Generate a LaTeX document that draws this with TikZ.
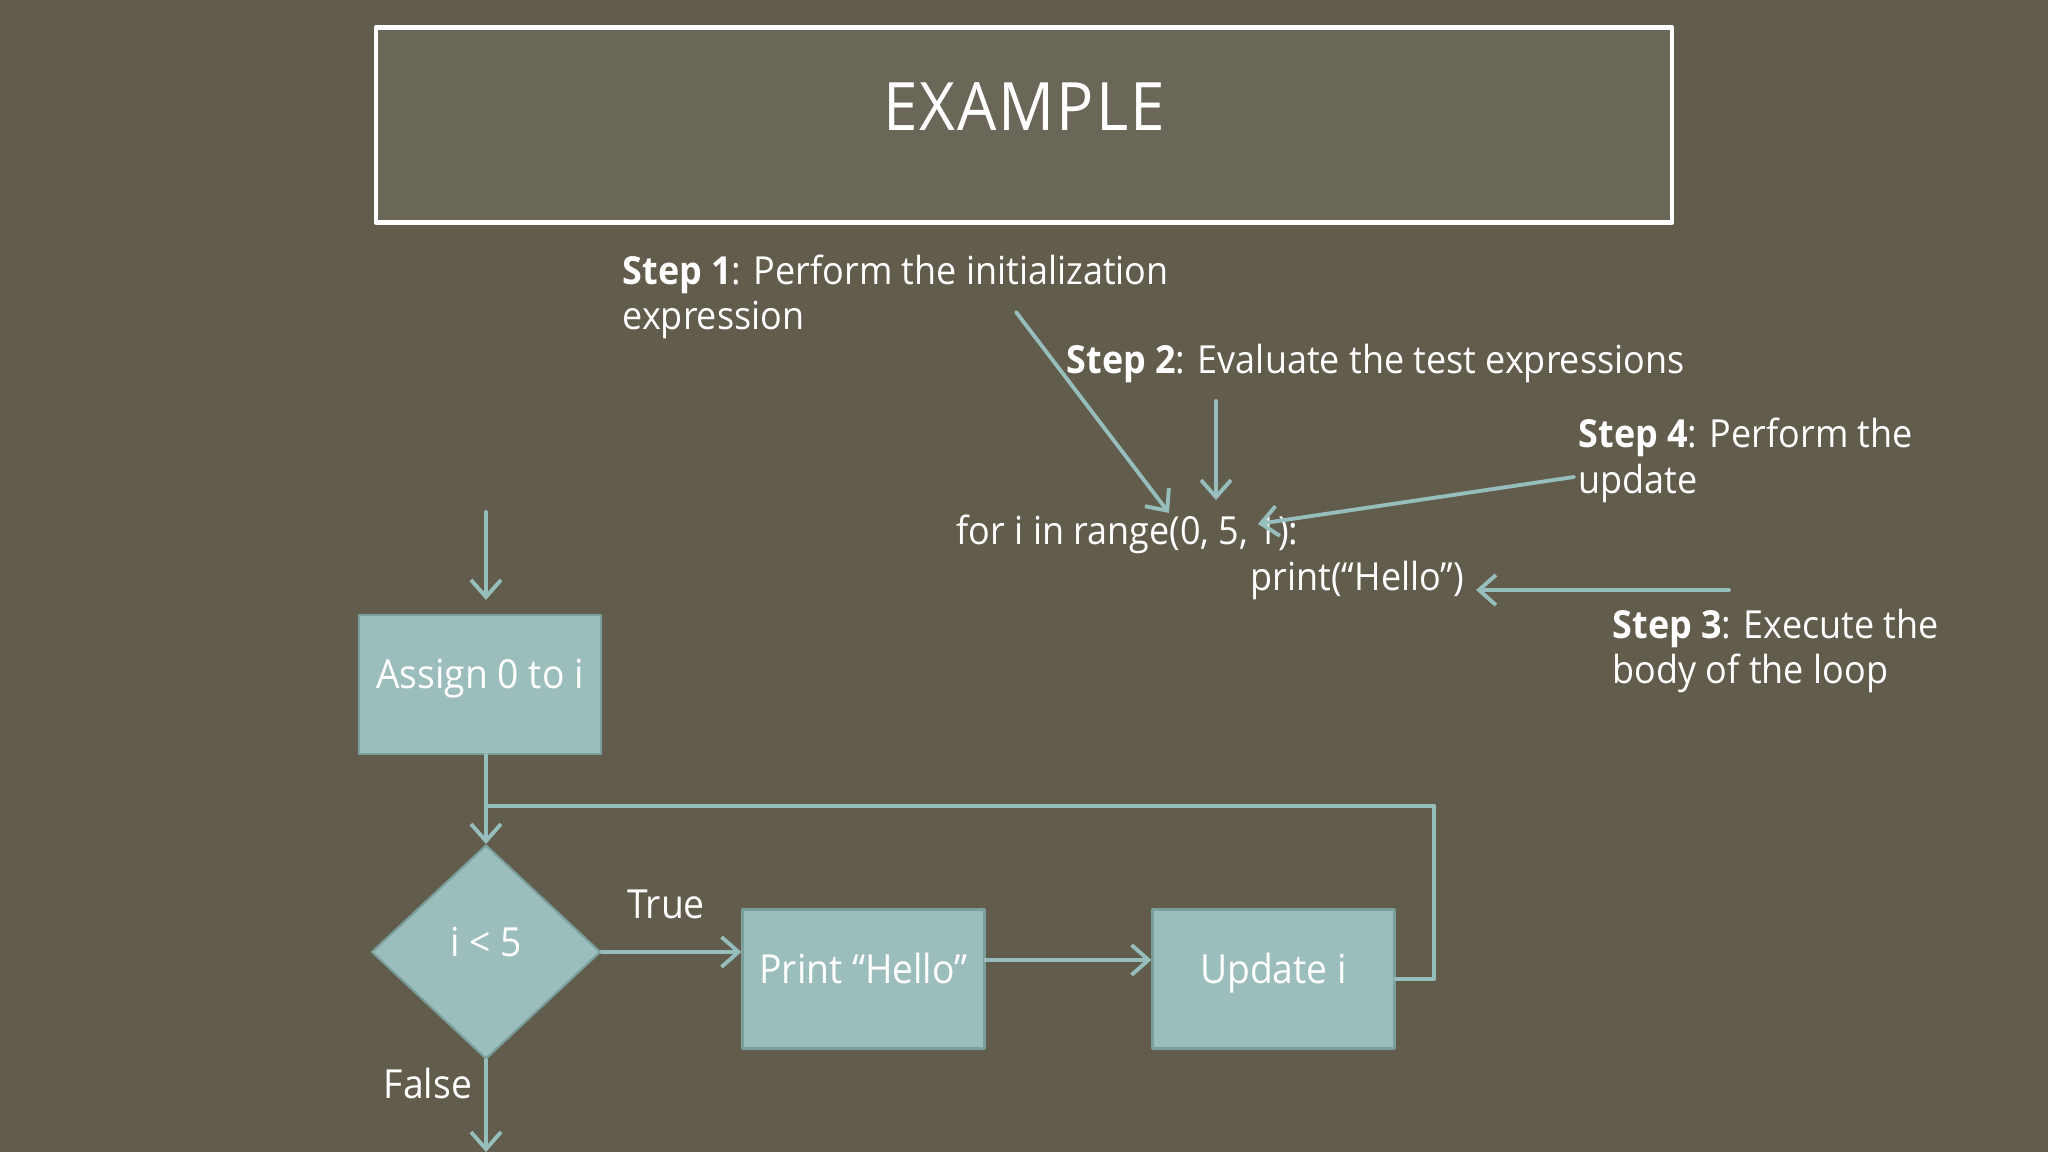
\documentclass[tikz,border=0pt]{standalone}
\usepackage{fontspec}
\setmainfont[FakeStretch=0.93]{Open Sans}
\usetikzlibrary{arrows.meta,shapes.geometric}
\definecolor{slidebg}{RGB}{98,92,76}
\definecolor{titlebg}{RGB}{106,102,88}
\definecolor{flowteal}{RGB}{150,190,188}
\definecolor{boxteal}{RGB}{155,189,187}
\definecolor{boxedge}{RGB}{122,160,158}

\begin{document}
\begin{tikzpicture}[x=1cm,y=1cm,>={Straight Barb[length=1.7mm,width=3mm]},line cap=round,line join=round,
  note/.style={anchor=west,align=left,text=white,inner sep=0pt,font=\fontsize{11}{13}\selectfont},
  flowbox/.style={draw=boxedge,fill=boxteal,line width=0.6pt,minimum width=2.42cm,minimum height=1.39cm,inner sep=0pt,text=white,text height=0.75em,text depth=0.5em,font=\fontsize{11.4}{13}\selectfont},
  pointer/.style={->,draw=flowteal,line width=1.1pt},
  flowline/.style={draw=flowteal,line width=1.1pt}]
\fill[slidebg] (0,0) rectangle (20.48,11.52);
\useasboundingbox (0,0) rectangle (20.48,11.52);
% title
\node[draw=white,line width=1.4pt,fill=titlebg,minimum width=12.96cm,minimum height=1.95cm] (title) at (10.24,10.27) {};
\node[text=white,inner sep=0pt,font=\fontsize{19}{22}\selectfont\addfontfeature{LetterSpace=3}] (titletext) at (10.24,10.45) {EXAMPLE};
% steps and code
\node[note] (step1) at (6.22,8.55) {\textbf{Step 1}: Perform the initialization\\expression};
\node[note] (step2) at (10.66,7.89) {\textbf{Step 2}: Evaluate the test expressions};
\node[note] (step4) at (15.78,6.915) {\textbf{Step 4}: Perform the\\update};
\node[note] (step3) at (16.12,5.01) {\textbf{Step 3}: Execute the\\body of the loop};
\node[note] (forline) at (9.56,6.18) {for i in range(0, 5, 1):};
\node[note] (printline) at (12.50,5.72) {print(“Hello”)};
\coordinate (s1from) at (10.16,8.40);
\coordinate (s1to) at (11.69,6.39);
\coordinate (s2from) at (12.16,7.51);
\coordinate (s2to) at (12.16,6.52);
\coordinate (s4from) at (15.74,6.75);
\coordinate (s4to) at (12.58,6.28);
\coordinate (s3from) at (17.29,5.62);
\coordinate (s3to) at (14.76,5.62);
\draw[pointer] (s1from) -- (s1to);
\draw[pointer] (s2from) -- (s2to);
\draw[pointer] (s4from) -- (s4to);
\draw[pointer] (s3from) -- (s3to);
% flowchart
\node[flowbox] (assign) at (4.80,4.675) {Assign 0 to i};
\node[diamond,draw=boxedge,fill=boxteal,line width=0.6pt,minimum width=2.29cm,minimum height=2.14cm,inner sep=0pt,text=white,text height=0.75em,text depth=0.5em,font=\fontsize{11.4}{13}\selectfont] (cond) at (4.86,2.00) {i < 5};
\node[flowbox] (print) at (8.635,1.73) {Print “Hello”};
\node[flowbox] (update) at (12.735,1.73) {Update i};
\coordinate (entry) at (4.86,6.40);
\coordinate (loopcorner) at (14.34,3.46);
\coordinate (exit) at (4.86,0.0);
\draw[pointer,shorten >=4pt] (entry) -- (entry |- assign.north);
\draw[pointer] (cond.north |- assign.south) -- (cond.north);
\draw[flowline] (update.east) -| (loopcorner) -- (loopcorner -| cond.north);
\draw[pointer] (cond.east) -- (cond.east -| print.west);
\draw[pointer] ([yshift=0.19cm]print.east) -- ([yshift=0.19cm]update.west);
\draw[pointer] (cond.south) -- (exit);
\node[text=white,inner sep=0pt,font=\fontsize{11.4}{13}\selectfont] (truelabel) at (6.66,2.48) {True};
\node[text=white,inner sep=0pt,font=\fontsize{11.4}{13}\selectfont] (falselabel) at (4.28,0.69) {False};
\end{tikzpicture}
\end{document}
